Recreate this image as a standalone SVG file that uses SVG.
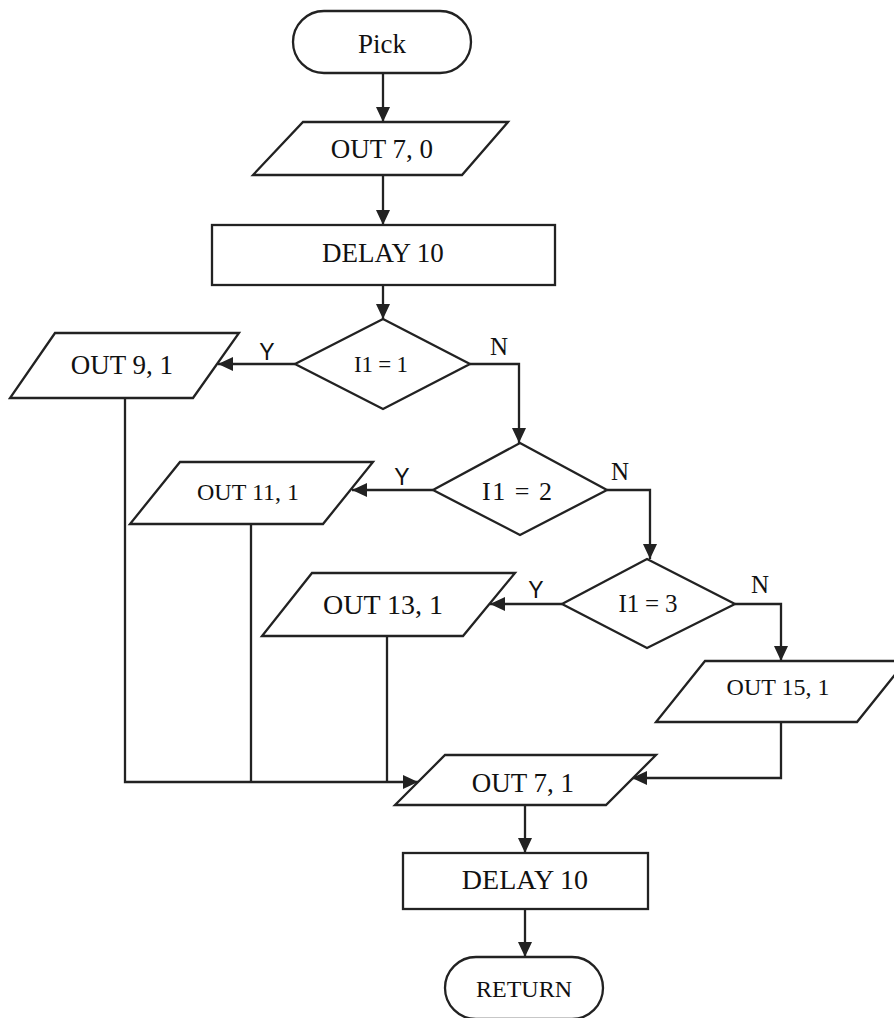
<svg xmlns="http://www.w3.org/2000/svg" width="894" height="1018" viewBox="0 0 894 1018">
<style>
.shape{fill:#fff;stroke:#222;stroke-width:2.3}
.t{font-family:"Liberation Serif","Times New Roman",serif;fill:#111;text-anchor:middle}
.lbl{font-family:"Liberation Sans",Arial,sans-serif;fill:#111;text-anchor:middle;font-size:23px}
.lbln{font-family:"Liberation Serif",serif;fill:#111;text-anchor:middle;font-size:25px}
.c{fill:none;stroke:#222;stroke-width:2.3}
</style>
<defs>
<marker id="ah" viewBox="0 0 15 14" refX="15" refY="7" markerWidth="15" markerHeight="14" markerUnits="userSpaceOnUse" orient="auto">
<path d="M0,0 L15,7 L0,14 Z" fill="#222"/>
</marker>
</defs>
<rect width="894" height="1018" fill="#fff"/>
<g id="connectors">
<path class="c" d="M383,73 V122" marker-end="url(#ah)"/>
<path class="c" d="M383,175 V225" marker-end="url(#ah)"/>
<path class="c" d="M383,285 V319" marker-end="url(#ah)"/>
<path class="c" d="M295,364 H218" marker-end="url(#ah)"/>
<path class="c" d="M470,364 H519 V443" marker-end="url(#ah)"/>
<path class="c" d="M433,490 H352" marker-end="url(#ah)"/>
<path class="c" d="M607,490 H650 V559" marker-end="url(#ah)"/>
<path class="c" d="M562,604 H490" marker-end="url(#ah)"/>
<path class="c" d="M735,604 H781 V661" marker-end="url(#ah)"/>
<path class="c" d="M125,398 V782 H418" marker-end="url(#ah)"/>
<path class="c" d="M251,524 V782"/>
<path class="c" d="M387,636 V782"/>
<path class="c" d="M781,722 V778 H632" marker-end="url(#ah)"/>
<path class="c" d="M525,805 V853" marker-end="url(#ah)"/>
<path class="c" d="M525,909 V957" marker-end="url(#ah)"/>
<text class="lbl" x="267" y="360">Y</text>
<text class="lbln" x="499" y="355">N</text>
<text class="lbl" x="402" y="485">Y</text>
<text class="lbln" x="620" y="480">N</text>
<text class="lbl" x="536" y="598">Y</text>
<text class="lbln" x="760" y="593">N</text>
</g>
<g id="pick">
<rect class="shape" x="293" y="11" width="178" height="62" rx="31"/>
<text class="t" x="382" y="53" font-size="27">Pick</text>
</g>
<g id="out70">
<path class="shape" d="M303,122 H508 L462,175 H253 Z"/>
<text class="t" x="382" y="158" font-size="27">OUT 7, 0</text>
</g>
<g id="delay1">
<rect class="shape" x="212" y="225" width="343" height="60"/>
<text class="t" x="383" y="262" font-size="27">DELAY 10</text>
</g>
<g id="d1">
<path class="shape" d="M383,319 L470,364 L383,409 L295,364 Z"/>
<text class="t" x="381" y="372" font-size="23" textLength="54" lengthAdjust="spacing">I1 = 1</text>
</g>
<g id="out91">
<path class="shape" d="M55,333 H239 L193,398 H10 Z"/>
<text class="t" x="122" y="374" font-size="27">OUT 9, 1</text>
</g>
<g id="d2">
<path class="shape" d="M520,443 L607,490 L520,535 L433,490 Z"/>
<text class="t" x="517" y="500" font-size="26" textLength="70" lengthAdjust="spacing">I1 = 2</text>
</g>
<g id="out111">
<path class="shape" d="M180,462 H373 L323,524 H130 Z"/>
<text class="t" x="248" y="500" font-size="24">OUT 11, 1</text>
</g>
<g id="d3">
<path class="shape" d="M647,559 L735,604 L647,648 L562,604 Z"/>
<text class="t" x="648" y="612" font-size="25" textLength="59" lengthAdjust="spacing">I1 = 3</text>
</g>
<g id="out131">
<path class="shape" d="M312,573 H515 L463,636 H262 Z"/>
<text class="t" x="383" y="614" font-size="28">OUT 13, 1</text>
</g>
<g id="out151">
<path class="shape" d="M705,661 H906 L857,722 H656 Z"/>
<text class="t" x="778" y="695" font-size="24">OUT 15, 1</text>
</g>
<g id="out71">
<path class="shape" d="M445,755 H656 L606,805 H395 Z"/>
<text class="t" x="523" y="792" font-size="27">OUT 7, 1</text>
</g>
<g id="delay2">
<rect class="shape" x="403" y="853" width="245" height="56"/>
<text class="t" x="525" y="889" font-size="28">DELAY 10</text>
</g>
<g id="return">
<rect class="shape" x="445" y="957" width="158" height="62" rx="31"/>
<text class="t" x="524" y="997" font-size="24">RETURN</text>
</g>
</svg>
